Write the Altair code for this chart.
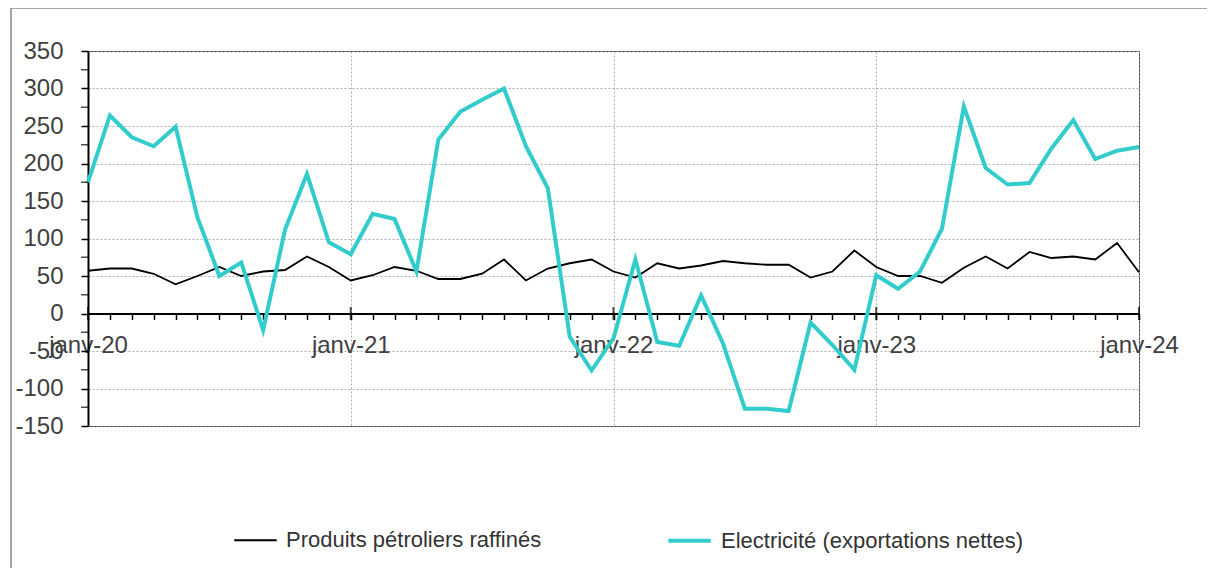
import altair as alt
import pandas as pd

abbr = ["janv", "févr", "mars", "avr", "mai", "juin", "juil", "août", "sept", "oct", "nov", "déc"]
mois = [f"{m}-{y}" for y in ["20", "21", "22", "23"] for m in abbr] + ["janv-24"]

petrole = [57, 60, 60, 53, 39, 50, 62, 50, 56, 58, 76, 62,
           44, 51, 62, 57, 46, 46, 53, 72, 44, 60, 67, 72,
           56, 48, 67, 60, 64, 70, 67, 65, 65, 48, 56, 84,
           62, 50, 50, 41, 61, 76, 60, 82, 74, 76, 72, 94,
           55]
electricite = [175, 264, 235, 223, 249, 128, 50, 68, -22, 112, 186, 95,
               79, 133, 126, 56, 232, 269, 285, 300, 223, 167, -31, -76,
               -33, 72, -38, -43, 24, -40, -127, -127, -130, -12, -42, -75,
               51, 33, 56, 113, 276, 194, 172, 174, 220, 258, 206, 217,
               222]

serie_names = ["Produits pétroliers raffinés", "Electricité (exportations nettes)"]
serie_colors = ["#000000", "#33CCCC"]
serie_widths = [1.8, 4]

y_major = list(range(-150, 351, 50))
y_minor = list(range(-125, 351, 50))

rows = []
for i, m in enumerate(mois):
    rows.append({"mois": m, "ordre": 0, "serie": serie_names[0], "valeur": petrole[i]})
for i, m in enumerate(mois):
    rows.append({"mois": m, "ordre": 1, "serie": serie_names[1], "valeur": electricite[i]})
df = pd.DataFrame(rows)

annees = pd.DataFrame({"mois": [m for m in mois if m.startswith("janv")], "valeur": 0})
mineurs = pd.DataFrame({"mois": mois[0], "valeur": y_minor})

FONT = "Liberation Sans"
W, H = 1051, 375
ymin, ymax = -150, 350
zero_offset = -H * (0 - ymin) / (ymax - ymin)

xscale = alt.Scale(type="point", padding=0, domain=mois)
yscale = alt.Scale(domain=[ymin, ymax], nice=False, zero=False)

x_axis = alt.Axis(
    orient="bottom", offset=zero_offset, title=None,
    labelExpr="indexof(datum.label, 'janv') == 0 ? datum.label : ''",
    labelAngle=0, labelOverlap=False, labelFont=FONT, labelFontSize=24,
    labelColor="#404040", labelPadding=14,
    tickSize=6, tickWidth=1.5, tickColor="black",
    domainColor="black", domainWidth=2,
    grid=True, gridDash=[2, 2], gridColor="#999999", gridWidth=0.8,
    gridOpacity={"condition": {"test": "indexof(datum.value, 'janv') == 0", "value": 1}, "value": 0},
)
y_axis = alt.Axis(
    values=y_major, title=None,
    labelExpr="'' + datum.value",
    labelOverlap=False, labelFlush=False, labelBound=False,
    labelFont=FONT, labelFontSize=24, labelColor="#404040", labelPadding=18,
    tickSize=7, tickWidth=1.5, tickColor="black",
    domainColor="black", domainWidth=2,
    grid=True, gridDash=[2, 2], gridColor="#999999", gridWidth=0.8,
)

X = alt.X("mois:O", scale=xscale, sort=mois, axis=x_axis)
Y = alt.Y("valeur:Q", scale=yscale, axis=y_axis)

lines = alt.Chart(df).mark_line(strokeJoin="miter", clip=False).encode(
    x=X,
    y=Y,
    color=alt.Color("serie:N", scale=alt.Scale(domain=serie_names, range=serie_colors),
                    legend=alt.Legend(title=None)),
    strokeWidth=alt.StrokeWidth("serie:N", scale=alt.Scale(domain=serie_names, range=serie_widths),
                                legend=alt.Legend(title=None)),
    order=alt.Order("ordre:Q"),
    detail="serie:N",
)

year_ticks = alt.Chart(annees).mark_tick(orient="vertical", size=13, thickness=2, color="black").encode(
    x=X, y=Y,
)

minor_ticks = alt.Chart(mineurs).mark_tick(
    orient="horizontal", size=7, thickness=1.5, color="black", xOffset=-3.5, clip=False
).encode(
    x=X, y=Y,
)

frame = alt.Chart(pd.DataFrame({"k": [0]})).mark_rect(
    filled=False, stroke="#888888", strokeWidth=1.5, clip=False
).encode(
    x=alt.value(-77), x2=alt.value(1300), y=alt.value(-43), y2=alt.value(700)
)

chart = alt.layer(lines, year_ticks, minor_ticks, frame).properties(
    width=W, height=H,
    autosize=alt.AutoSizeParams(type="none"),
    padding={"left": 80, "top": 43, "right": 1199 - 80 - W, "bottom": 560 - 43 - H},
).configure_view(
    stroke="#404040", strokeWidth=1
).configure_axis(
    labelOverlap=False
).configure_legend(
    orient="none", legendX=145, legendY=466, direction="horizontal",
    symbolType="stroke", symbolSize=1800, labelFont=FONT, labelFontSize=22,
    labelColor="#333333", labelOffset=8, columnPadding=118, labelLimit=500,
)

chart.save("out.html", embed_options={"renderer": "svg", "actions": False})
